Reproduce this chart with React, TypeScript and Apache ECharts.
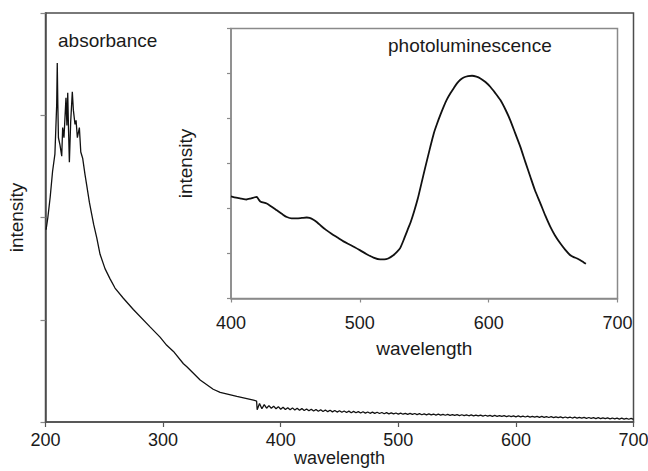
import React, { useEffect, useRef } from "react";
import * as echarts from "echarts";

// Absorbance spectrum (main plot): [wavelength nm, intensity]
const absorbanceHead: [number, number][] = [
  [200.5, 1.88], [202, 2.0], [204, 2.2], [206, 2.45], [208, 2.62], [209.5, 3.1], [210, 3.51],
  [210.5, 3.1], [211, 2.78], [212.3, 2.71], [213.8, 2.6], [214.6, 2.88], [215.7, 2.78],
  [217.4, 3.17], [218.2, 2.9], [218.9, 3.22], [219.6, 2.85], [220.3, 2.54], [221.4, 2.93],
  [222.8, 3.23], [223.7, 3.05], [225.1, 2.91], [226, 2.95], [227.1, 2.78], [228.8, 2.88],
  [230, 2.64], [231.6, 2.58], [233.6, 2.42], [235, 2.32], [237.3, 2.15], [239.3, 2.03],
  [241, 1.93], [243.6, 1.8], [246.4, 1.64], [250.6, 1.5], [254.9, 1.4], [259.1, 1.31],
  [266.2, 1.21], [274.7, 1.1], [288.9, 0.93], [297.4, 0.83], [303.1, 0.75], [308.8, 0.69],
  [317.3, 0.57], [320.2, 0.54], [331.5, 0.41], [342.6, 0.32], [348.5, 0.29], [362.7, 0.25],
  [376.9, 0.215], [379.5, 0.205],
];

const absorbanceTail: [number, number][] = [
  [380, 0.12], [382, 0.18], [384, 0.13], [386, 0.17], [388, 0.135], [390, 0.16], [392, 0.135],
  [394, 0.155], [396, 0.13], [398, 0.15], [400, 0.125], [402, 0.145], [404, 0.122], [406, 0.14],
  [408, 0.12], [410, 0.138], [412, 0.117], [414, 0.134], [416, 0.114], [418, 0.131], [420, 0.112],
  [422, 0.128], [424, 0.11], [426, 0.125], [428, 0.107], [430, 0.122], [432, 0.105], [434, 0.12],
  [436, 0.103], [438, 0.118], [440, 0.101], [442, 0.115], [444, 0.099], [446, 0.113], [448, 0.097],
  [450, 0.11], [452, 0.095], [454, 0.108], [456, 0.093], [458, 0.106], [460, 0.091], [462, 0.104],
  [464, 0.09], [466, 0.102], [468, 0.088], [470, 0.1], [472, 0.087], [474, 0.098], [476, 0.085],
  [478, 0.096], [480, 0.084], [482, 0.095], [484, 0.083], [486, 0.093], [488, 0.081], [490, 0.092],
  [492, 0.08], [494, 0.09], [496, 0.079], [498, 0.088], [500, 0.077], [502, 0.087], [504, 0.076],
  [506, 0.085], [508, 0.075], [510, 0.084], [512, 0.074], [514, 0.083], [516, 0.072], [518, 0.081],
  [520, 0.071], [522, 0.08], [524, 0.07], [526, 0.079], [528, 0.069], [530, 0.078], [532, 0.068],
  [534, 0.076], [536, 0.067], [538, 0.075], [540, 0.066], [542, 0.074], [544, 0.065], [546, 0.073],
  [548, 0.064], [550, 0.072], [552, 0.063], [554, 0.071], [556, 0.062], [558, 0.07], [560, 0.061],
  [562, 0.069], [564, 0.06], [566, 0.068], [568, 0.059], [570, 0.067], [572, 0.058], [574, 0.066],
  [576, 0.057], [578, 0.065], [580, 0.056], [582, 0.064], [584, 0.055], [586, 0.063], [588, 0.054],
  [590, 0.062], [592, 0.053], [594, 0.061], [596, 0.052], [598, 0.06], [600, 0.051], [602, 0.059],
  [604, 0.05], [606, 0.058], [608, 0.049], [610, 0.057], [612, 0.048], [614, 0.056], [616, 0.047],
  [618, 0.055], [620, 0.046], [622, 0.054], [624, 0.045], [626, 0.053], [628, 0.044], [630, 0.052],
  [632, 0.043], [634, 0.051], [636, 0.042], [638, 0.05], [640, 0.041], [642, 0.049], [644, 0.04],
  [646, 0.048], [648, 0.039], [650, 0.047], [652, 0.038], [654, 0.046], [656, 0.037], [658, 0.045],
  [660, 0.036], [662, 0.044], [664, 0.035], [666, 0.043], [668, 0.034], [670, 0.042], [672, 0.033],
  [674, 0.041], [676, 0.032], [678, 0.04], [680, 0.031], [682, 0.039], [684, 0.03], [686, 0.038],
  [688, 0.029], [690, 0.037], [692, 0.028], [694, 0.036], [696, 0.027], [698, 0.035], [700, 0.026],
];

// Photoluminescence spectrum (inset): [wavelength nm, intensity]
const photoluminescence: [number, number][] = [
  [400, 2.27], [404, 2.24], [408, 2.22], [412, 2.2], [415, 2.22], [418.5, 2.25], [420, 2.26],
  [421.5, 2.2], [423, 2.15], [427.7, 2.11], [431, 2.05], [435.5, 1.96], [440, 1.87], [443.3, 1.81],
  [447, 1.78], [451, 1.78], [455, 1.79], [458.8, 1.8], [461, 1.79], [464, 1.75], [467, 1.69],
  [470, 1.61], [474, 1.52], [478, 1.44], [483, 1.35], [487.3, 1.27], [492, 1.2], [496, 1.14],
  [500.3, 1.07], [505, 0.99], [510.6, 0.91], [515.8, 0.87], [519, 0.87], [522, 0.89], [526, 0.96],
  [529, 1.04], [531.3, 1.12], [534, 1.3], [537, 1.52], [539.5, 1.7], [542, 1.92], [545, 2.22],
  [548, 2.58], [550.5, 2.88], [554.7, 3.37], [557.5, 3.68], [560, 3.89], [562.5, 4.08], [565, 4.26],
  [567.5, 4.42], [570.3, 4.56], [573, 4.68], [575.4, 4.78], [578, 4.86], [580.6, 4.91], [584, 4.94],
  [587.1, 4.95], [590.5, 4.93], [593.6, 4.89], [597.5, 4.81], [601.4, 4.7], [605, 4.57],
  [609.1, 4.41], [613, 4.2], [616.8, 3.96], [620.5, 3.68], [624.6, 3.37], [628.5, 3.03],
  [632.4, 2.7], [636, 2.4], [640.2, 2.11], [644, 1.84], [647.9, 1.59], [651.5, 1.4], [655.7, 1.22],
  [659.5, 1.08], [663.4, 0.96], [666, 0.92], [668.7, 0.89], [671.2, 0.85], [673.8, 0.8], [675.5, 0.77],
];

const axisTitleX = "wavelength";
const axisTitleY = "intensity";
const mainLabel = "absorbance";
const insetLabel = "photoluminescence";

const FONT = "Liberation Sans, Arial, sans-serif";
const TEXT = "#1a1a1a";

export default function App() {
  const ref = useRef<HTMLDivElement>(null);
  useEffect(() => {
    if (!ref.current) return;
    const chart = echarts.init(ref.current, undefined, { renderer: "svg" });
    const labelStyle = { color: TEXT, fontFamily: FONT, fontSize: 19 };
    chart.setOption({
      animation: false,
      backgroundColor: "#fff",
      grid: [
        { left: 45.5, right: 14.5, top: 13, bottom: 49, show: true, borderColor: "#4d4d4d", borderWidth: 1.5, containLabel: false, outerBoundsMode: "none" },
        { left: 231, right: 30.5, top: 28.5, bottom: 172.5, show: true, borderColor: "#8a8a8a", borderWidth: 1.5, backgroundColor: "#fff", containLabel: false, outerBoundsMode: "none" },
      ],
      xAxis: [
        {
          type: "value", gridIndex: 0, min: 200, max: 700, interval: 100,
          axisLine: { show: true, lineStyle: { color: "#4d4d4d", width: 1.5 } },
          axisTick: { show: true, length: 5, lineStyle: { color: "#555", width: 1.2 } },
          axisLabel: { ...labelStyle, fontSize: 18, margin: 9 },
          splitLine: { show: false },
          name: axisTitleX, nameLocation: "middle", nameGap: 27, nameMoveOverlap: false,
          nameTextStyle: { ...labelStyle, fontSize: 18, verticalAlign: "top" },
        },
        {
          type: "value", gridIndex: 1, min: 400, max: 700, interval: 100,
          axisLine: { show: true, lineStyle: { color: "#8a8a8a", width: 1.5 } },
          axisTick: { show: true, length: 4, lineStyle: { color: "#8a8a8a", width: 1.2 } },
          axisLabel: { ...labelStyle, fontSize: 18, margin: 15 },
          splitLine: { show: false },
          name: axisTitleX, nameLocation: "middle", nameGap: 40, nameTextStyle: labelStyle,
        },
      ],
      yAxis: [
        {
          type: "value", gridIndex: 0, min: 0, max: 4, interval: 1,
          axisLine: { show: true, lineStyle: { color: "#4d4d4d", width: 1.5 } },
          axisTick: { show: true, length: 5, lineStyle: { color: "#888", width: 1.2 } },
          axisLabel: { show: false },
          splitLine: { show: false },
          name: axisTitleY, nameLocation: "middle", nameGap: 20, nameTextStyle: labelStyle,
        },
        {
          type: "value", gridIndex: 1, min: 0, max: 6, interval: 1,
          axisLine: { show: true, lineStyle: { color: "#8a8a8a", width: 1.5 } },
          axisTick: { show: true, length: 4, lineStyle: { color: "#8a8a8a", width: 1.2 } },
          axisLabel: { show: false },
          splitLine: { show: false },
          name: axisTitleY, nameLocation: "middle", nameGap: 36, nameTextStyle: labelStyle,
        },
      ],
      series: [
        {
          type: "line", xAxisIndex: 0, yAxisIndex: 0, showSymbol: false,
          data: [...absorbanceHead, ...absorbanceTail],
          lineStyle: { color: "#111", width: 1.3 },
        },
        {
          type: "line", xAxisIndex: 1, yAxisIndex: 1, showSymbol: false, smooth: 0.2,
          data: photoluminescence,
          lineStyle: { color: "#111", width: 1.8 },
        },
      ],
      graphic: [
        { type: "text", left: 58, top: 31, style: { text: mainLabel, fill: TEXT, font: `19px ${FONT}` } },
        { type: "text", left: 388, top: 36, style: { text: insetLabel, fill: TEXT, font: `19px ${FONT}` } },
      ],
    });
    return () => chart.dispose();
  }, []);
  return <div ref={ref} style={{ width: 648, height: 471, position: "absolute", left: 0, top: 0 }} />;
}
